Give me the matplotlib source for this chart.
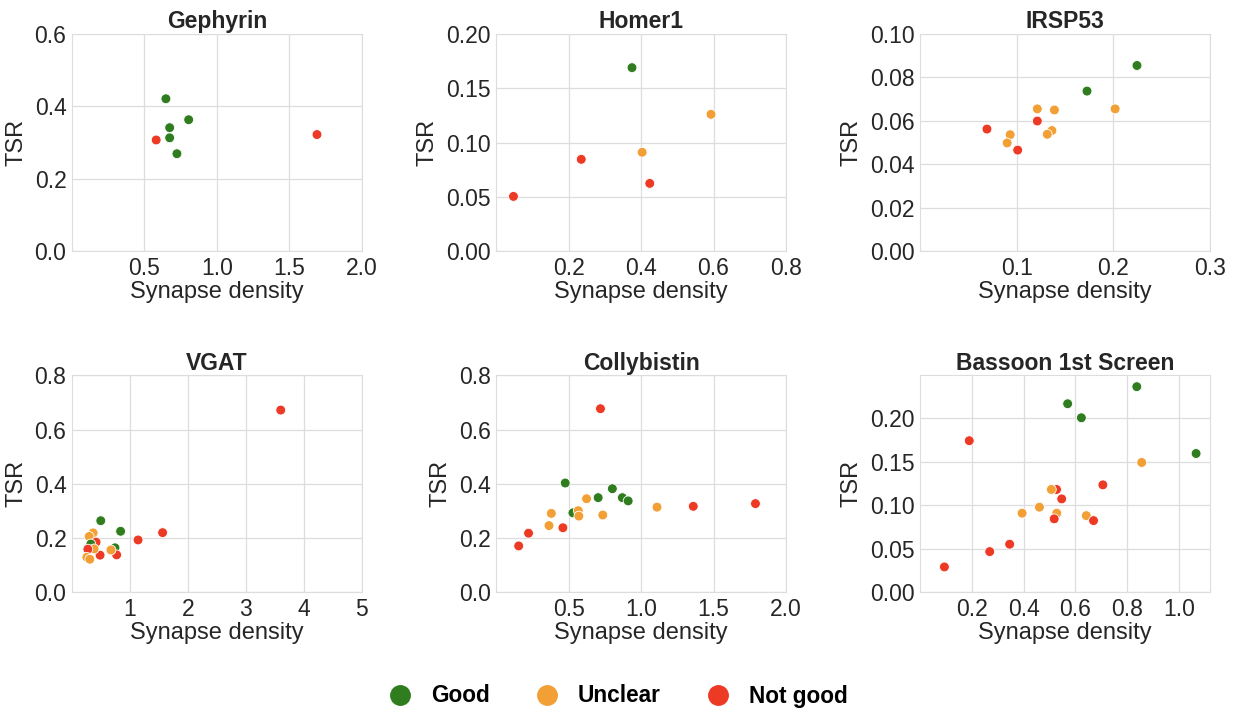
import matplotlib
matplotlib.use("Agg")
import matplotlib.pyplot as plt
from matplotlib.lines import Line2D

plt.rcParams['font.family'] = ['Liberation Sans', 'DejaVu Sans']

GREEN, ORANGE, RED = "#2f7d1f", "#f2a035", "#ec3a25"

# (synapse density, TSR, label) per protein ; g=Good, u=Unclear, n=Not good
geph_x = [0.648, 0.805, 0.674, 0.674, 0.724, 0.581, 1.69]
geph_y = [0.421, 0.363, 0.341, 0.313, 0.269, 0.307, 0.322]
geph_c = ["g", "g", "g", "g", "g", "n", "n"]

homer_x = [0.375, 0.593, 0.403, 0.235, 0.424, 0.048]
homer_y = [0.169, 0.126, 0.091, 0.0845, 0.0623, 0.0503]
homer_c = ["g", "u", "u", "n", "n", "n"]

irsp_x = [0.2244, 0.1727, 0.2018, 0.1213, 0.139, 0.1213, 0.1364, 0.1316, 0.0932, 0.0901, 0.0692, 0.101]
irsp_y = [0.0855, 0.0737, 0.0655, 0.0655, 0.065, 0.0599, 0.0555, 0.0538, 0.0536, 0.0498, 0.0562, 0.0465]
irsp_c = ["g", "g", "u", "u", "u", "n", "u", "u", "u", "u", "n", "n"]

vgat_x = [3.6, 1.563, 1.14, 0.839, 0.497, 0.742, 0.771, 0.673, 0.485, 0.365, 0.297, 0.416, 0.325, 0.382, 0.274, 0.257, 0.308]
vgat_y = [0.672, 0.220, 0.193, 0.225, 0.264, 0.164, 0.138, 0.156, 0.137, 0.219, 0.206, 0.185, 0.178, 0.160, 0.159, 0.129, 0.122]
vgat_c = ["n", "n", "n", "g", "g", "g", "n", "u", "n", "u", "u", "n", "g", "u", "n", "u", "u"]

colly_x = [0.72, 0.477, 0.802, 0.704, 0.871, 0.911, 0.530, 0.624, 0.567, 0.571, 0.736, 1.11, 0.381, 0.365, 0.461, 0.224, 0.156, 1.36, 1.789]
colly_y = [0.677, 0.403, 0.382, 0.349, 0.349, 0.337, 0.293, 0.345, 0.301, 0.281, 0.285, 0.314, 0.291, 0.246, 0.238, 0.218, 0.171, 0.317, 0.327]
colly_c = ["n", "g", "g", "g", "g", "g", "g", "u", "u", "u", "u", "u", "u", "u", "n", "n", "n", "n", "n"]

bass_x = [0.837, 0.570, 0.623, 1.066, 0.856, 0.190, 0.706, 0.527, 0.507, 0.547, 0.461, 0.394, 0.528, 0.518, 0.642, 0.670, 0.346, 0.269, 0.094]
bass_y = [0.236, 0.2164, 0.2003, 0.1593, 0.149, 0.174, 0.1233, 0.118, 0.118, 0.1072, 0.0977, 0.0908, 0.0908, 0.0843, 0.088, 0.0823, 0.0552, 0.0467, 0.0291]
bass_c = ["g", "g", "g", "g", "u", "n", "n", "n", "u", "n", "u", "u", "u", "n", "u", "n", "n", "n", "n"]

titles = ["Gephyrin", "Homer1", "IRSP53", "VGAT", "Collybistin", "Bassoon 1st Screen"]
cmap = {"g": GREEN, "u": ORANGE, "n": RED}

panels = [
    (geph_x, geph_y, geph_c, (0, 2.0), [0.5, 1.0, 1.5, 2.0], (0, 0.6), [0, 0.2, 0.4, 0.6], "%.1f", "%.1f"),
    (homer_x, homer_y, homer_c, (0, 0.8), [0.2, 0.4, 0.6, 0.8], (0, 0.2), [0, 0.05, 0.1, 0.15, 0.2], "%.1f", "%.2f"),
    (irsp_x, irsp_y, irsp_c, (0, 0.3), [0.1, 0.2, 0.3], (0, 0.1), [0, 0.02, 0.04, 0.06, 0.08, 0.1], "%.1f", "%.2f"),
    (vgat_x, vgat_y, vgat_c, (0, 5), [1, 2, 3, 4, 5], (0, 0.8), [0, 0.2, 0.4, 0.6, 0.8], "%d", "%.1f"),
    (colly_x, colly_y, colly_c, (0, 2.0), [0.5, 1.0, 1.5, 2.0], (0, 0.8), [0, 0.2, 0.4, 0.6, 0.8], "%.1f", "%.1f"),
    (bass_x, bass_y, bass_c, (0, 1.12), [0.2, 0.4, 0.6, 0.8, 1.0], (0, 0.249), [0, 0.05, 0.1, 0.15, 0.2], "%.1f", "%.2f"),
]

fig = plt.figure(figsize=(12.34, 7.09), dpi=100)
lefts = [0.0583, 0.402, 0.7456]
bottoms = [0.646, 0.1646]
W, H = 0.235, 0.306

for i, (xs, ys, cs, xl, xt, yl, yt, xf, yf) in enumerate(panels):
    ax = fig.add_axes([lefts[i % 3], bottoms[i // 3], W, H])
    ax.scatter(xs, ys, c=[cmap[c] for c in cs], s=50, edgecolors="white", linewidths=0.6, zorder=3)
    ax.set_xlim(*xl); ax.set_ylim(*yl)
    ax.set_xticks(xt); ax.set_yticks(yt)
    ax.set_xticklabels([xf % v for v in xt]); ax.set_yticklabels([yf % v for v in yt])
    ax.grid(True, color="#dddddd", linewidth=0.9)
    ax.set_axisbelow(True)
    for s in ax.spines.values():
        s.set_color("#dddddd")
    ax.tick_params(length=0, labelsize=16.5, labelcolor="#262626", pad=4)
    ax.set_title(titles[i], fontsize=16.5, fontweight="bold", color="#262626", pad=4)
    ax.set_xlabel("Synapse density", fontsize=17, color="#262626", labelpad=1)
    ax.set_ylabel("TSR", fontsize=17, color="#262626", labelpad=5)

handles = [Line2D([], [], marker="o", linestyle="", markersize=14, color=c) for c in (GREEN, ORANGE, RED)]
fig.legend(handles, ["Good", "Unclear", "Not good"], loc="center", bbox_to_anchor=(0.501, 1 - 696 / 709),
           ncol=3, frameon=False, prop={"weight": "bold", "size": 16.3}, handlelength=1.0,
           handletextpad=0.85, columnspacing=2.05)

fig.savefig("out.png", dpi=100)
